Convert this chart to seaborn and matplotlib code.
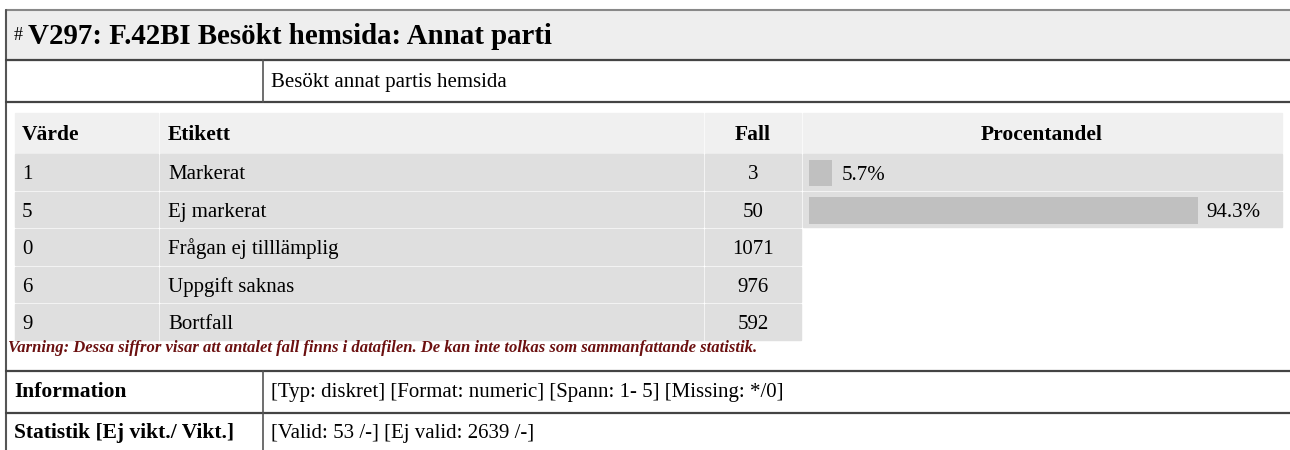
import matplotlib
matplotlib.use("Agg")
import matplotlib.pyplot as plt
from matplotlib.patches import Rectangle
import matplotlib.transforms as mtransforms
import seaborn as sns
import pandas as pd

# data
title = "V297: F.42BI Besökt hemsida: Annat parti"
subtitle = "Besökt annat partis hemsida"
values = ["1", "5", "0", "6", "9"]
labels = ["Markerat", "Ej markerat", "Frågan ej tilllämplig", "Uppgift saknas", "Bortfall"]
counts = [3, 50, 1071, 976, 592]
pct_labels = ["Markerat", "Ej markerat"]
pct_values = [5.7, 94.3]
headers = ["Värde", "Etikett", "Fall", "Procentandel"]
warning = ("Varning: Dessa siffror visar att antalet fall finns i datafilen. "
           "De kan inte tolkas som sammanfattande statistik.")
info_rows = [("Information", "[Typ: diskret] [Format: numeric] [Spann: 1- 5] [Missing: */0]"),
             ("Statistik [Ej vikt./ Vikt.]", "[Valid: 53 /-] [Ej valid: 2639 /-]")]

sns.set_style("white")
plt.rcParams['font.family'] = ['Liberation Serif', 'DejaVu Serif']
plt.rcParams['text.color'] = 'black'

FS = 15      # body text
FSB = 15.5   # bold header text
W, H = 1290, 450
fig = plt.figure(figsize=(12.9, 4.5), dpi=100)
ax = fig.add_axes([0, 0, 1, 1])
ax.set_xlim(0, W)
ax.set_ylim(H, 0)
ax.axis('off')

# outer frame / title block
ax.add_patch(Rectangle((6, 10), W - 6, 50, color='#eeeeee', zorder=0))
ax.plot([6, W], [10, 10], color='#888888', lw=1.5)
ax.plot([6, 6], [10, H], color='#555555', lw=1.5)
for yy in [60, 102, 371, 413]:
    ax.plot([6, W], [yy, yy], color='#444444', lw=1.6)
ax.plot([263, 263], [60, 102], color='#555555', lw=1.2)
ax.plot([263, 263], [371, H], color='#555555', lw=1.2)

ax.text(14, 40, "#", fontsize=13, va='baseline', ha='left')
ax.text(28, 44, title, fontsize=20.8, fontweight='bold', va='baseline', ha='left')
ax.text(271, 87, subtitle, fontsize=FS, va='baseline', ha='left')

# inner table
cols = [(15, 158), (160, 703), (705, 801), (803, 1282)]
hdr_top, hdr_bot = 113, 153
row0, pitch = 154, 37.6
for (x0, x1), h in zip(cols, headers):
    ax.add_patch(Rectangle((x0, hdr_top), x1 - x0, hdr_bot - hdr_top, color='#f0f0f0', zorder=0))
ax.text(22, 140, headers[0], fontsize=FSB, fontweight='bold', va='baseline')
ax.text(168, 140, headers[1], fontsize=FSB, fontweight='bold', va='baseline')
ax.text(753, 140, headers[2], fontsize=FSB, fontweight='bold', va='baseline', ha='center')
ax.text(1042, 140, headers[3], fontsize=FSB, fontweight='bold', va='baseline', ha='center')

for i, (v, lab, c) in enumerate(zip(values, labels, counts)):
    top = row0 + i * pitch
    ncols = 4 if lab in pct_labels else 3
    for x0, x1 in cols[:ncols]:
        ax.add_patch(Rectangle((x0, top), x1 - x0, pitch - 2, color='#dfdfdf', zorder=0))
    base = top + 25
    ax.text(22, base, v, fontsize=FS, va='baseline')
    ax.text(168, base, lab, fontsize=FS, va='baseline')
    ax.text(753, base, str(c), fontsize=FS, va='baseline', ha='center')

ax.text(8, 352, warning, fontsize=12, fontweight='bold', style='italic',
        color='#6b1010', va='baseline')

for j, (k, v) in enumerate(info_rows):
    base = 397 + j * 41
    ax.text(14, base, k, fontsize=FSB, fontweight='bold', va='baseline')
    ax.text(271, base, v, fontsize=FS, va='baseline')

# percentage bars
bax = fig.add_axes([809 / W, 1 - (row0 + 2 * pitch) / H, 412 / W, 2 * pitch / H])
df = pd.DataFrame({"label": pct_labels, "pct": pct_values})
sns.barplot(data=df, x="pct", y="label", orient='h', color='#c0c0c0',
            width=0.7, saturation=1, linewidth=0, ax=bax)
bax.set_xlim(0, 100)
bax.set_ylim(1.5, -0.5)
bax.axis('off')
off = mtransforms.offset_copy(bax.transData, fig=fig, x=9, y=0, units='dots')
for i, p in enumerate(pct_values):
    bax.text(p, i + 0.18, f"{p}%", fontsize=FS, va='baseline', ha='left', transform=off)

fig.savefig("out.png", dpi=100)
